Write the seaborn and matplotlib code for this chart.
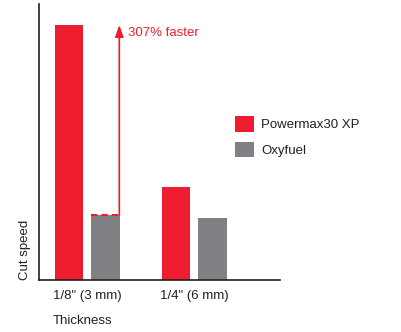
import matplotlib
matplotlib.use("Agg")
import matplotlib.pyplot as plt
import seaborn as sns
import pandas as pd
from matplotlib.patches import Patch

categories = ['1/8" (3 mm)', '1/4" (6 mm)']
series = ["Powermax30 XP", "Oxyfuel"]
powermax = [255, 93]
oxyfuel = [65, 62]
colors = {"Powermax30 XP": "#ED1C2E", "Oxyfuel": "#808184"}

df = pd.DataFrame({
    "Thickness": categories * 2,
    "Process": [series[0]] * 2 + [series[1]] * 2,
    "Speed": powermax + oxyfuel,
})

sns.set_style("white")
plt.rcParams["font.family"] = ["Liberation Sans", "DejaVu Sans"]

fig = plt.figure(figsize=(4.02, 3.32), dpi=100)
ax = fig.add_axes([39 / 402, 52 / 332, 241 / 402, 276 / 332])

sns.barplot(data=df, x="Thickness", y="Speed", hue="Process", order=categories,
            hue_order=series, palette=colors, width=0.68, gap=0.22,
            saturation=1, legend=False, ax=ax, linewidth=0)

ax.set_xlim(-0.453, 1.8)
ax.set_ylim(0, 276)
ax.set_yticks([])
ax.set_xlabel("")
ax.set_ylabel("")
ax.tick_params(axis="x", length=0, pad=7, labelsize=9.5, labelcolor="#231F20")
for s in ["top", "right"]:
    ax.spines[s].set_visible(False)
for s in ["left", "bottom"]:
    ax.spines[s].set_color("#231F20")
    ax.spines[s].set_linewidth(1.2)

# arrow from oxyfuel bar top to powermax bar top (first group)
bars = ax.patches
red0 = bars[0]
gray0 = bars[2]
top_gray = gray0.get_height()
top_red = red0.get_height()
xa = gray0.get_x() + gray0.get_width() - 0.005
ax.plot([gray0.get_x(), xa], [top_gray, top_gray], color="#ED1C2E",
        lw=1.5, ls=(0, (3, 2)))
ax.annotate("", xy=(xa, top_red), xytext=(xa, top_gray),
            arrowprops=dict(arrowstyle="-|>,head_length=0.7,head_width=0.25",
                            color="#ED1C2E", lw=1.2, shrinkA=0, shrinkB=0))
ax.text(xa + 0.08, top_red - 8, "307% faster", color="#ED1C2E",
        fontsize=9.5, va="center", ha="left")

handles = [Patch(facecolor=colors[s], edgecolor="none", label=s) for s in series]
fig.legend(handles=handles, loc="upper left", bbox_to_anchor=(235 / 402, 1 - 116 / 332),
           frameon=False, fontsize=9.5, handlelength=1.44, handleheight=1.44,
           handletextpad=0.53, labelspacing=0.76, borderpad=0, borderaxespad=0,
           labelcolor="#231F20")

fig.text(53 / 402, 1 - 321 / 332, "Thickness", fontsize=9.5, va="center",
         ha="left", color="#231F20")
fig.text(25 / 402, 1 - 280 / 332, "Cut speed", fontsize=9.5, rotation=90,
         va="bottom", ha="center", color="#231F20")

fig.savefig("out.png", dpi=100)
